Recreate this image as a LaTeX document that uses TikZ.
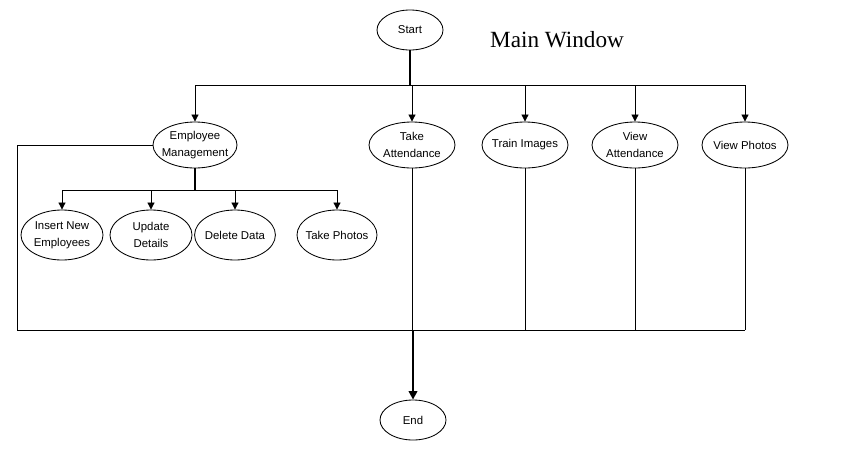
\documentclass[tikz,border=0pt]{standalone}
\usepackage{fontspec}
\setmainfont{Liberation Sans}
\newfontfamily\titlefont{Liberation Serif}
\usetikzlibrary{shapes.geometric,arrows.meta}

\begin{document}
\begin{tikzpicture}[
    x=0.025cm, y=-0.025cm,
    oval/.style={ellipse, draw, line width=0.6pt, inner xsep=-0.25cm, inner ysep=-2pt,
                 align=center, minimum width=2.15cm, minimum height=1.15cm,
                 font=\fontsize{8.1}{12}\selectfont},
    subloop/.style={oval, minimum width=2.05cm, minimum height=1.25cm},
    link/.style={line width=0.6pt},
    heavy/.style={line width=1.6pt},
    arrow/.style={-{Triangle[width=5pt,length=5pt]}, line width=0.6pt}
]
\useasboundingbox (0,0) rectangle (862,455);

% start and title
\node[oval, minimum width=1.65cm, minimum height=1cm] (start) at (410,30) {Start};
\node[font=\titlefont\fontsize{16.5}{20}\selectfont] (title) at (557,40) {Main Window};

% main menu
\node[oval, minimum width=2.1cm] (empmgmt) at (195,145) {Employee\\Management};
\node[oval] (takeatt) at (412,145) {Take\\Attendance};
\node[oval] (train) at (525,145) {Train Images};
\node[oval] (viewatt) at (635,145) {View\\Attendance};
\node[oval] (viewphoto) at (745,145) {View Photos};

% employee menu
\node[subloop] (insert) at (62,235) {Insert New\\Employees};
\node[subloop] (update) at (151,235) {Update\\Details};
\node[subloop, minimum width=2.02cm] (delete) at (235,235) {Delete Data};
\node[subloop, minimum width=2cm] (photos) at (337,235) {Take Photos};

\node[oval, minimum width=1.65cm, minimum height=1cm] (end) at (413,420) {End};

\coordinate (bar) at (195,85);
\coordinate (subbar) at (63,190);
\coordinate (bottom) at (17,330);

% start to main menu
\draw[heavy] (start) -- (start |- bar);
\draw[link] (bar) -- (viewphoto |- bar);
\foreach \n in {empmgmt, takeatt, train, viewatt, viewphoto}
    \draw[arrow] (\n |- bar) -- (\n);

% employee management to sub menu
\draw[heavy] (empmgmt) -- (empmgmt |- subbar);
\draw[link] (subbar) -- (photos |- subbar);
\foreach \n in {insert, update, delete, photos}
    \draw[arrow] (\n |- subbar) -- (\n);

% back to end
\draw[link] (empmgmt.west) -| (bottom) -- (viewphoto |- bottom);
\foreach \n in {takeatt, train, viewatt, viewphoto}
    \draw[link] (\n) -- (\n |- bottom);
\draw[-{Triangle[width=6pt,length=6pt]}, heavy] (end |- bottom) -- (end);

\end{tikzpicture}
\end{document}
